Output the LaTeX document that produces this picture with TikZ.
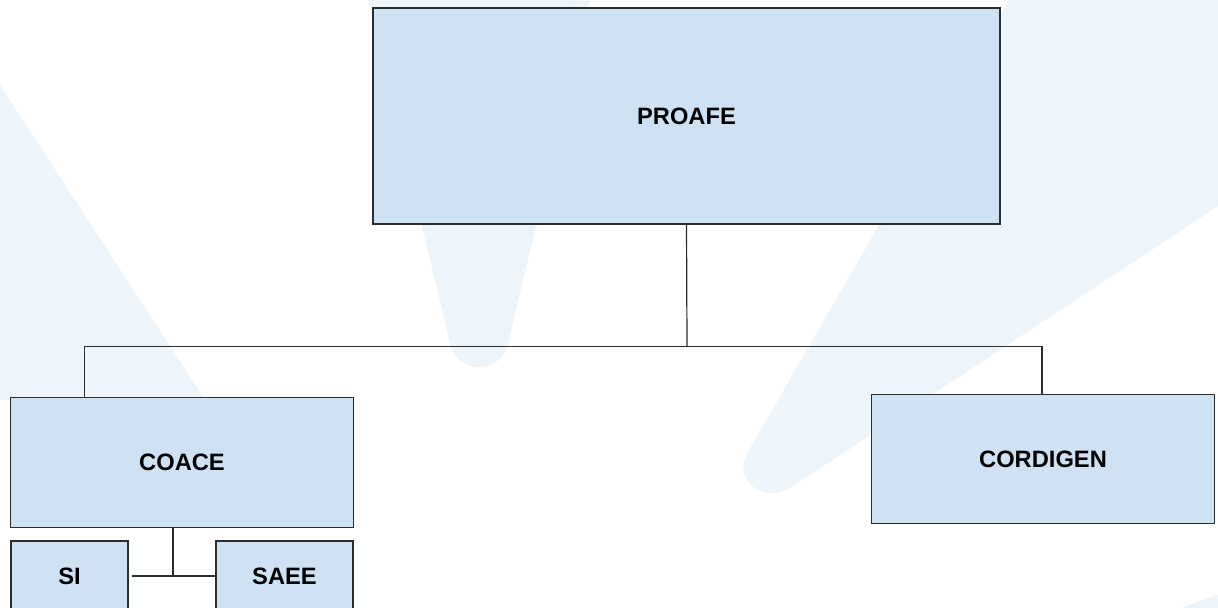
\documentclass[tikz,border=0pt]{standalone}
\usepackage{fontspec}
\setmainfont{Liberation Sans}
\definecolor{boxblue}{RGB}{207,226,243}
\definecolor{wmblue}{RGB}{237,245,250}
\definecolor{edge}{RGB}{45,45,45}
\begin{document}
\begin{tikzpicture}[x=0.5pt,y=-0.5pt,
  box/.style={draw=edge, line width=0.7pt, fill=boxblue, inner sep=0pt,
    font=\fontsize{11.85}{14}\selectfont\bfseries},
  link/.style={draw=edge, line width=0.6pt},
  wm/.style={fill=wmblue}]
\useasboundingbox (0,0) rectangle (1218,608);
\clip (0,0) rectangle (1218,608);
\fill[white] (0,0) rectangle (1218,608);
% background watermark shapes
\fill[wm] (0,85) -- (205,400) -- (0,400) -- cycle;
\fill[wm] (368,-2) -- (590,-2) -- (508,344) .. controls (500,375) and (458,375) .. (450,344) -- cycle;
\fill[wm] (1010,-2) -- (1220,-2) -- (1220,205) -- (790,488) .. controls (765,504) and (731,481) .. (748,452) -- cycle;
\fill[wm] (1175,610) -- (1220,594) -- (1220,610) -- cycle;
% boxes
\node[box, minimum width=313.5pt, minimum height=108pt] (proafe) at (686.5,116) {PROAFE};
\node[box, minimum width=171.25pt, minimum height=65pt] (coace) at (182,462.5) {COACE};
\node[box, minimum width=171.25pt, minimum height=64.75pt] (cordigen) at (1043,459) {CORDIGEN};
\node[box, minimum width=58.5pt, minimum height=35pt] (si) at (69.5,576) {SI};
\node[box, minimum width=68.5pt, minimum height=35pt] (saee) at (284.5,576) {SAEE};
% connectors
\coordinate (bus) at (687,346.5);
\coordinate (sub) at (173,576);
\draw[link] (proafe.south) -- (bus);
\draw[link] ([xshift=37.1pt]coace.north west) |- (bus) -| ([xshift=-0.5pt]cordigen.north);
\draw[link] ([xshift=-4.5pt]coace.south) -- (sub);
\draw[link] ([xshift=1.5pt]si.east) -- (saee.west);
\end{tikzpicture}
\end{document}
